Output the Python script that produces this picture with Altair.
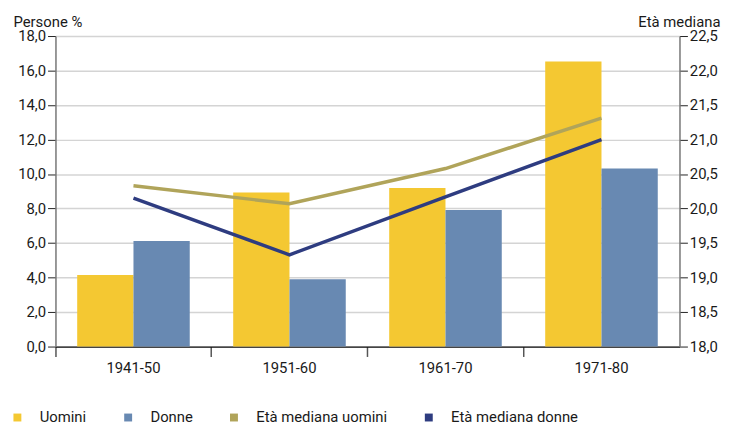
import altair as alt
import pandas as pd

periods = ["1941-50", "1951-60", "1961-70", "1971-80"]
uomini = [4.15, 8.93, 9.19, 16.52]
donne = [6.12, 3.9, 7.91, 10.32]
eta_uomini = [20.33, 20.07, 20.58, 21.31]
eta_donne = [20.15, 19.33, 20.17, 21.0]

names = ["Uomini", "Donne", "Età mediana uomini", "Età mediana donne"]
colors = ["#F4C832", "#6889B2", "#B0A45A", "#2E3C80"]

bars = pd.DataFrame(
    [{"period": p, "serie": "Uomini", "value": v} for p, v in zip(periods, uomini)]
    + [{"period": p, "serie": "Donne", "value": v} for p, v in zip(periods, donne)]
)
lines = pd.DataFrame(
    [{"period": p, "serie": names[2], "value": v} for p, v in zip(periods, eta_uomini)]
    + [{"period": p, "serie": names[3], "value": v} for p, v in zip(periods, eta_donne)]
)

FONT = "Roboto, sans-serif"
FS = 15

x = alt.X(
    "period:N",
    sort=periods,
    scale=alt.Scale(paddingInner=0, paddingOuter=0),
    axis=alt.Axis(
        title=None,
        labelAngle=0,
        bandPosition=0,
        labelOffset=0,
        tickSize=10,
        tickColor="#555555",
        tickWidth=1.5,
        domainColor="#111111",
        domainWidth=1.2,
        labelPadding=4,
        grid=False,
    ),
)

bar_layer = alt.Chart(bars).mark_bar().encode(
    x=x,
    xOffset=alt.XOffset(
        "serie:N",
        sort=["Uomini", "Donne"],
        scale=alt.Scale(domain=["Uomini", "Donne"], paddingInner=0, paddingOuter=0.386),
    ),
    y=alt.Y(
        "value:Q",
        scale=alt.Scale(domain=[0, 18], nice=False, zero=True),
        axis=alt.Axis(
            values=list(range(0, 19, 2)),
            labelExpr="replace(format(datum.value, '.1f'), '.', ',')",
            title="Persone %",
            titleAngle=0,
            titleAlign="left",
            titleBaseline="alphabetic",
            titleX=-43,
            titleY=-10,
            grid=True,
            gridColor="#d4d4d4",
            gridWidth=1.5,
            domainColor="#777777",
            domainWidth=1.5,
            tickColor="#222222",
            tickSize=8,
            labelPadding=2,
        ),
    ),
    fill=alt.Fill(
        "serie:N",
        scale=alt.Scale(domain=names, range=colors),
        legend=alt.Legend(
            title=None,
            orient="none",
            direction="horizontal",
            legendX=-46,
            legendY=378,
            symbolType="square",
            symbolSize=64,
            symbolStrokeWidth=0,
            labelOffset=15,
            columnPadding=34,
            padding=0,
        ),
    ),
)

line_layer = alt.Chart(lines).mark_line(strokeWidth=3.5).encode(
    x=alt.X("period:N", sort=periods),
    y=alt.Y(
        "value:Q",
        scale=alt.Scale(domain=[18, 22.5], nice=False, zero=False),
        axis=alt.Axis(
            orient="right",
            values=[18 + 0.5 * i for i in range(10)],
            labelExpr="replace(format(datum.value, '.1f'), '.', ',')",
            title="Età mediana",
            titleAngle=0,
            titleAlign="right",
            titleBaseline="alphabetic",
            titleX=41,
            titleY=-10,
            grid=False,
            domainColor="#777777",
            domainWidth=1.5,
            tickColor="#222222",
            tickSize=8,
            labelPadding=2,
        ),
    ),
    stroke=alt.Stroke(
        "serie:N",
        scale=alt.Scale(domain=names[2:], range=colors[2:]),
        legend=None,
    ),
    detail="serie:N",
)

chart = (
    alt.layer(bar_layer, line_layer)
    .resolve_scale(y="independent", fill="independent", stroke="independent")
    .properties(
        width=631,
        height=314,
        autosize=alt.AutoSizeParams(type="none"),
        padding={"left": 48, "top": 26, "right": 44, "bottom": 80},
    )
    .configure(font=FONT)
    .configure_view(stroke=None)
    .configure_axis(
        labelFont=FONT,
        titleFont=FONT,
        labelFontSize=FS,
        titleFontSize=FS,
        labelColor="#1a1a1a",
        titleColor="#1a1a1a",
        titleFontWeight="normal",
    )
    .configure_legend(labelFont=FONT, labelFontSize=FS, labelColor="#1a1a1a")
)

chart.save("out.html", embed_options={"renderer": "svg", "actions": False})
